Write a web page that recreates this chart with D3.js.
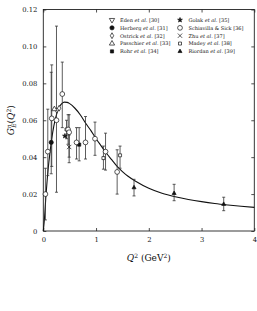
<!DOCTYPE html>
<html>
<head>
<meta charset="utf-8">
<script src="https://cdn.jsdelivr.net/npm/d3@7"></script>
<style>
  body { margin: 0; background: #fff; }
  svg { display: block; }
  text { font-family: "DejaVu Serif", serif; fill: #111; }
</style>
</head>
<body>
<div id="chart"></div>
<script>
// --- data ---
// each dataset: [Q2, GEn, low, high]
let eden = [[0.255, 0.0655, null, null]];
let herberg = [[0.15, 0.048, 0.031, 0.086]];
let ostrick = [[0.30, 0.0665, null, null]];
let passchier = [[0.21, 0.066, null, null]];
let rohr = [[0.68, 0.0468, 0.038, 0.056]];
let golak = [[0.41, 0.0515, null, null]];
let schiavilla = [
    [0.04, 0.020, 0.006, 0.034],
    [0.085, 0.043, 0.030, 0.066],
    [0.16, 0.061, 0.035, 0.090],
    [0.25, 0.060, 0.021, 0.111],
    [0.36, 0.0742, 0.056, 0.0915],
    [0.47, 0.055, 0.047, 0.063],
    [0.49, 0.0535, 0.037, 0.063],
    [0.63, 0.048, 0.039, 0.056],
    [0.80, 0.048, 0.039, 0.062],
    [0.98, 0.050, 0.041, 0.059],
    [1.18, 0.043, 0.033, 0.053],
    [1.40, 0.032, 0.020, 0.044]
];
let zhu = [[0.49, 0.0455, 0.040, 0.052]];
let madey = [
    [0.44, 0.055, 0.050, 0.060],
    [1.14, 0.0395, 0.0335, 0.046],
    [1.455, 0.041, 0.034, 0.046]
];
let riordan = [
    [1.72, 0.0235, 0.019, 0.028],
    [2.48, 0.0204, 0.0164, 0.0253],
    [3.42, 0.0145, 0.011, 0.0183]
];

// fitted curve, points
let curveQ2 = [0, 0.02, 0.05, 0.08, 0.12, 0.16, 0.2, 0.25, 0.3, 0.35, 0.4, 0.45, 0.5, 0.6, 0.7, 0.8, 0.9, 1.0, 1.1, 1.2, 1.3, 1.4, 1.5, 1.6, 1.75, 2.0, 2.25, 2.5, 2.75, 3.0, 3.25, 3.5, 3.75, 4.0];
let curveG = [0, 0.006, 0.019, 0.030, 0.041, 0.050, 0.057, 0.063, 0.067, 0.069, 0.0698, 0.0697, 0.069, 0.0665, 0.063, 0.0585, 0.0545, 0.050, 0.046, 0.042, 0.0385, 0.035, 0.0322, 0.0298, 0.027, 0.0232, 0.0205, 0.0186, 0.0171, 0.0159, 0.0149, 0.0141, 0.0134, 0.0128];

let xTicks = [0, 1, 2, 3, 4];
let yTicks = [0, 0.02, 0.04, 0.06, 0.08, 0.10, 0.12];

let legendLeft = ["Eden", "Herberg", "Ostrick", "Passchier", "Rohr"];
let legendLeftRef = ["[30]", "[31]", "[32]", "[33]", "[34]"];
let legendRight = ["Golak", "Schiavilla & Sick [36]", "Zhu", "Madey", "Riordan"];
let legendRightRef = ["[35]", "", "[37]", "[38]", "[39]"];

// --- layout ---
let W = 257, H = 311;
let margin = {top: 9.5, right: 2.7, bottom: 80, left: 43.3};
let width = W - margin.left - margin.right;
let height = H - margin.top - margin.bottom;

let svg = d3.select("#chart").append("svg")
    .attr("width", W)
    .attr("height", H);

let g = svg.append("g")
    .attr("transform", `translate(${margin.left},${margin.top})`);

let x = d3.scaleLinear().domain([0, 4]).range([0, width]);
let y = d3.scaleLinear().domain([0, 0.12]).range([height, 0]);

// frame
g.append("rect")
    .attr("width", width)
    .attr("height", height)
    .attr("fill", "none")
    .attr("stroke", "#222")
    .attr("stroke-width", 0.9);

let fmtY = d => d === 0 ? "0" : d3.format(".2f")(d);

// axes with inward ticks
let axB = g.append("g").attr("transform", `translate(0,${height})`)
    .call(d3.axisBottom(x).tickValues(xTicks).tickSize(-3).tickPadding(6).tickFormat(d3.format("d")));
let axT = g.append("g")
    .call(d3.axisTop(x).tickValues(xTicks).tickSize(-3).tickFormat(""));
let axL = g.append("g")
    .call(d3.axisLeft(y).tickValues(yTicks).tickSize(-3).tickPadding(6).tickFormat(fmtY));
let axR = g.append("g").attr("transform", `translate(${width},0)`)
    .call(d3.axisRight(y).tickValues(yTicks).tickSize(-3).tickFormat(""));

[axB, axT, axL, axR].forEach(a => {
    a.select(".domain").remove();
    a.selectAll("line").attr("stroke", "#222").attr("stroke-width", 0.8);
    a.selectAll("text").style("font-family", "DejaVu Serif").style("font-size", "6.8px").attr("fill", "#111");
});

// curve
let line = d3.line()
    .x(d => x(d[0]))
    .y(d => y(d[1]))
    .curve(d3.curveMonotoneX);

g.append("path")
    .datum(curveQ2.map((q, i) => [q, curveG[i]]))
    .attr("d", line)
    .attr("fill", "none")
    .attr("stroke", "#111")
    .attr("stroke-width", 1.1);

// symbols
let sym = {
    eden: {type: d3.symbolTriangle, size: 12, fill: "#fff", rot: 180},
    herberg: {type: d3.symbolCircle, size: 14, fill: "#111"},
    ostrick: {type: d3.symbolDiamond, size: 10, fill: "#fff"},
    passchier: {type: d3.symbolTriangle, size: 12, fill: "#fff"},
    rohr: {type: d3.symbolSquare, size: 10, fill: "#111"},
    golak: {type: d3.symbolStar, size: 7, fill: "#111"},
    schiavilla: {type: d3.symbolCircle, size: 18, fill: "#fff"},
    zhu: {type: d3.symbolTimes, size: 14, fill: "none"},
    madey: {type: d3.symbolSquare, size: 9, fill: "#fff"},
    riordan: {type: d3.symbolTriangle, size: 7, fill: "#111"}
};

let sets = [
    ["eden", eden], ["herberg", herberg], ["ostrick", ostrick], ["passchier", passchier],
    ["rohr", rohr], ["golak", golak], ["zhu", zhu], ["madey", madey],
    ["schiavilla", schiavilla], ["riordan", riordan]
];

function drawSymbol(sel, key, cx, cy) {
    let s = sym[key];
    sel.append("path")
        .attr("d", d3.symbol().type(s.type).size(s.size)())
        .attr("transform", `translate(${cx},${cy})` + (s.rot ? ` rotate(${s.rot})` : ""))
        .attr("fill", s.fill)
        .attr("stroke", "#111")
        .attr("stroke-width", 0.7);
}

// error bars first
sets.forEach(([key, data]) => {
    data.filter(d => d[2] !== null).forEach(d => {
        let eb = g.append("g").attr("stroke", "#333").attr("stroke-width", 0.8);
        eb.append("line")
            .attr("x1", x(d[0])).attr("x2", x(d[0]))
            .attr("y1", y(d[2])).attr("y2", y(d[3]));
        [d[2], d[3]].forEach(v => {
            eb.append("line")
                .attr("x1", x(d[0]) - 1.5).attr("x2", x(d[0]) + 1.5)
                .attr("y1", y(v)).attr("y2", y(v));
        });
    });
});

sets.forEach(([key, data]) => {
    data.forEach(d => drawSymbol(g, key, x(d[0]), y(d[1])));
});

// legend
let legKeysL = ["eden", "herberg", "ostrick", "passchier", "rohr"];
let legKeysR = ["golak", "schiavilla", "zhu", "madey", "riordan"];
let rowY = i => 20 + i * 7.85 - margin.top;

function legendText(sel, tx, ty, name, ref) {
    let t = sel.append("text")
        .attr("x", tx).attr("y", ty + 1.8)
        .style("font-size", "5px")
        .style("font-family", "DejaVu Serif");
    if (ref === "") {
        t.text(name);
    } else {
        t.append("tspan").text(name + " ");
        t.append("tspan").style("font-style", "italic").text("et al.");
        t.append("tspan").text(" " + ref);
    }
}

legKeysL.forEach((k, i) => {
    drawSymbol(g, k, 112 - margin.left, rowY(i));
    legendText(g, 120 - margin.left, rowY(i), legendLeft[i], legendLeftRef[i]);
});
legKeysR.forEach((k, i) => {
    drawSymbol(g, k, 180 - margin.left, rowY(i));
    legendText(g, 188.5 - margin.left, rowY(i), legendRight[i], legendRightRef[i]);
});

// axis labels
let xl = svg.append("text")
    .attr("x", margin.left + width / 2 + 0)
    .attr("y", 261)
    .attr("text-anchor", "middle")
    .style("font-size", "9px");
xl.append("tspan").style("font-style", "italic").text("Q");
xl.append("tspan").attr("dy", -3).style("font-size", "6px").text("2");
xl.append("tspan").attr("dy", 3).text(" (GeV");
xl.append("tspan").attr("dy", -3).style("font-size", "6px").text("2");
xl.append("tspan").attr("dy", 3).text(")");

let yl = svg.append("text")
    .attr("transform", `translate(14,${margin.top + height / 2}) rotate(-90)`)
    .attr("text-anchor", "middle")
    .style("font-size", "9px");
yl.append("tspan").style("font-style", "italic").text("G");
yl.append("tspan").attr("dy", -3).style("font-size", "6px").style("font-style", "italic").text("n");
yl.append("tspan").attr("dx", -3.5).attr("dy", 5).style("font-size", "6px").style("font-style", "italic").text("E");
yl.append("tspan").attr("dy", -2).text("(");
yl.append("tspan").style("font-style", "italic").text("Q");
yl.append("tspan").attr("dy", -3).style("font-size", "6px").text("2");
yl.append("tspan").attr("dy", 3).text(")");
</script>
</body>
</html>
